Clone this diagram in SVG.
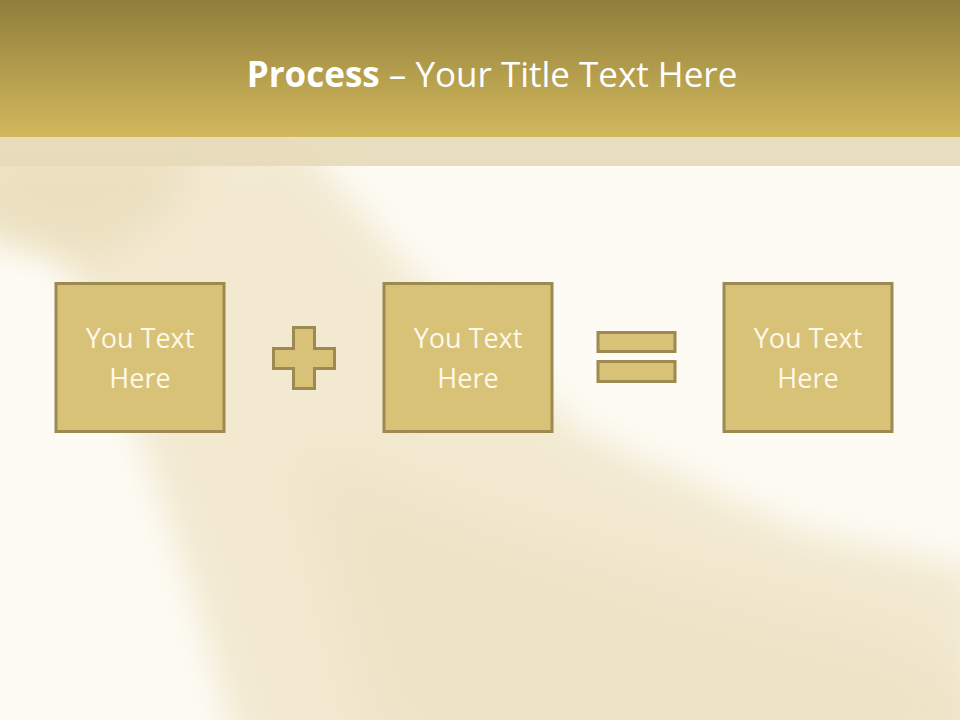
<svg xmlns="http://www.w3.org/2000/svg" width="960" height="720" viewBox="0 0 960 720">
<defs>
<linearGradient id="hdr" x1="0" y1="0" x2="0" y2="1">
<stop offset="0" stop-color="#8f7d3c"/>
<stop offset="0.5" stop-color="#b19c4c"/>
<stop offset="1" stop-color="#d3b85c"/>
</linearGradient>
<filter id="blur" x="-20%" y="-20%" width="140%" height="140%"><feGaussianBlur stdDeviation="18"/></filter>
<filter id="blur2" x="-20%" y="-20%" width="140%" height="140%"><feGaussianBlur stdDeviation="30"/></filter>
<style>
.box{fill:#d7c277;stroke:#9c8a50;stroke-width:3}
.sym{fill:#d7c277;stroke:#9c8a50;stroke-width:3}
.lbl{font-family:"Open Sans","DejaVu Sans",sans-serif;font-size:27px;fill:#fdf8e8;text-anchor:middle}
.ttl{font-family:"Open Sans","DejaVu Sans",sans-serif;font-size:35px;fill:#ffffff;text-anchor:middle}
</style>
</defs>
<rect x="0" y="0" width="960" height="720" fill="#fdfbf4"/>
<g id="background">
<path d="M-40,140 L300,140 L420,280 L580,430 L800,530 L980,570 L980,760 L240,760 L195,600 L130,410 L60,255 L-40,225 Z" fill="#f2e9d0" filter="url(#blur)"/>
<path d="M300,450 L480,520 L700,590 L900,640 L980,690 L980,760 L380,760 Z" fill="#eadcbb" opacity="0.45" filter="url(#blur2)"/>
<path d="M-20,150 L200,150 L160,220 L90,260 L-20,230 Z" fill="#e9dcb9" opacity="0.7" filter="url(#blur)"/>
</g>
<rect x="0" y="0" width="960" height="137" fill="url(#hdr)"/>
<rect x="0" y="137" width="960" height="29" fill="#e6dab9" opacity="0.92"/>
<g id="title">
<text class="ttl" x="492" y="87"><tspan font-weight="bold">Process</tspan> – Your Title Text Here</text>
</g>
<g id="node1">
<rect class="box" x="56" y="283.5" width="168" height="148"/>
<text class="lbl" x="140" y="348">You Text</text>
<text class="lbl" x="140" y="388">Here</text>
</g>
<g id="plus">
<path class="sym" d="M293.5,327.5 H314.5 V348.5 H334.5 V368.5 H314.5 V388.5 H293.5 V368.5 H273.5 V348.5 H293.5 Z"/>
</g>
<g id="node2">
<rect class="box" x="384" y="283.5" width="168" height="148"/>
<text class="lbl" x="468" y="348">You Text</text>
<text class="lbl" x="468" y="388">Here</text>
</g>
<g id="equals">
<rect class="sym" x="598" y="332.5" width="77" height="19"/>
<rect class="sym" x="598" y="361.5" width="77" height="20"/>
</g>
<g id="node3">
<rect class="box" x="724" y="283.5" width="168" height="148"/>
<text class="lbl" x="808" y="348">You Text</text>
<text class="lbl" x="808" y="388">Here</text>
</g>
<g id="connectors"></g>
</svg>
